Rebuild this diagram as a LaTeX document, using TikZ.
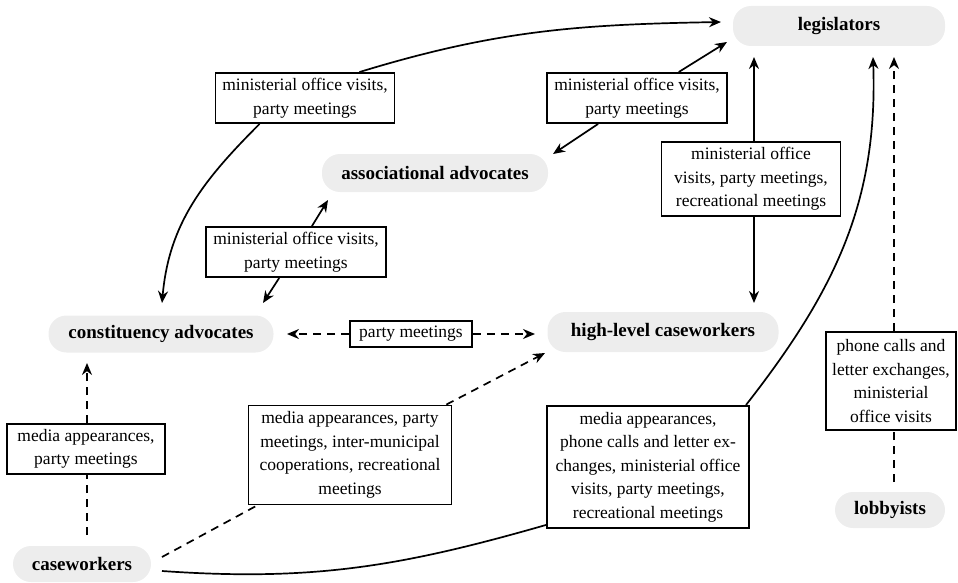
\documentclass[tikz,border=0pt]{standalone}
\usepackage{fontspec}
\setmainfont{Liberation Serif}
\usetikzlibrary{arrows.meta}
\begin{document}
\begin{tikzpicture}[x=1pt,y=-1pt,
  pill/.style={fill=black!7, rounded corners=18pt, font=\fontsize{19}{23}\selectfont\bfseries, inner sep=0pt},
  lbl/.style={draw, fill=white, line width=1.9pt, align=center, font=\fontsize{17.5}{23.5}\selectfont, inner xsep=4pt, inner ysep=1pt},
  conn/.style={line width=1.7pt},
  arr/.style={conn, -{Stealth[length=12pt,width=10pt]}},
  dsh/.style={dash pattern=on 8pt off 6pt}]
\useasboundingbox (0,0) rectangle (958,583);

% actors
\node[pill, minimum width=212pt, minimum height=40pt] (leg) at (839,26) {legislators};
\node[pill, minimum width=226pt, minimum height=38pt] (asc) at (435,173) {associational advocates};
\node[pill, minimum width=225pt, minimum height=37pt] (con) at (161,334) {constituency advocates};
\node[pill, minimum width=231pt, minimum height=40pt] (hlc) at (663,332) {high-level caseworkers};
\node[pill, minimum width=138pt, minimum height=36pt] (cw) at (82,564) {caseworkers};
\node[pill, minimum width=110pt, minimum height=36pt] (lob) at (890,510) {lobbyists};

% labels
\node[lbl, minimum width=179pt, minimum height=50pt] (L1) at (305,98) {ministerial office visits,\\party meetings};
\node[lbl, minimum width=180pt, minimum height=50pt] (L2) at (637,98) {ministerial office visits,\\party meetings};
\node[lbl, minimum width=179pt, minimum height=74pt] (L3) at (751,179) {ministerial office\\visits, party meetings,\\recreational meetings};
\node[lbl, minimum width=180pt, minimum height=50pt] (L4) at (296,252) {ministerial office visits,\\party meetings};
\node[lbl, minimum width=122pt, minimum height=26pt] (L5) at (411,334) {party meetings};
\node[lbl, minimum width=158pt, minimum height=50pt] (L6) at (86,449) {media appearances,\\party meetings};
\node[lbl, minimum width=203pt, minimum height=99pt] (L7) at (350,455) {media appearances, party\\meetings, inter-municipal\\cooperations, recreational\\meetings};
\node[lbl, minimum width=202pt, minimum height=122pt] (L8) at (648,467) {media appearances,\\phone calls and letter ex-\\changes, ministerial office\\visits, party meetings,\\recreational meetings};
\node[lbl, minimum width=130pt, minimum height=98pt] (L9) at (891,381) {phone calls and\\letter exchanges,\\ministerial\\office visits};

% connector end points
\coordinate (t1c) at (162,303);
\coordinate (t1l) at (721,22);
\coordinate (t2a) at (553,154);
\coordinate (t2l) at (727,42);
\coordinate (t3l) at (754,57);
\coordinate (t3h) at (754,303);
\coordinate (t4a) at (328,200);
\coordinate (t4c) at (263,303);
\coordinate (t5c) at (287,334);
\coordinate (t5h) at (535,334);
\coordinate (s6) at (87,535);
\coordinate (t6c) at (87,363);
\coordinate (s7) at (162,557);
\coordinate (t7h) at (545,353);
\coordinate (s8) at (162,571);
\coordinate (t8l) at (873,57);
\coordinate (s9) at (894,482);
\coordinate (t9l) at (894,57);

% 1 constituency <-> legislators
\draw[arr] ([xshift=45pt]L1.south west) to[out=225,in=85] (t1c);
\draw[arr] ([xshift=-36pt]L1.north east) to[out=17,in=181] (t1l);
% 2 associational <-> legislators
\draw[arr] (L2) -- (t2a);
\draw[arr] (L2) -- (t2l);
% 3 legislators <-> high-level
\draw[arr] (L3.north -| t3l) -- (t3l);
\draw[arr] (L3.south -| t3h) -- (t3h);
% 4 constituency <-> associational
\draw[arr] (L4) -- (t4a);
\draw[arr] (L4) -- (t4c);
% 5 constituency <-> high-level
\draw[arr, dsh] (L5) -- (t5c);
\draw[arr, dsh] (L5) -- (t5h);
% 6 caseworkers -> constituency
\draw[conn, dsh] (s6) -- (L6.south -| s6);
\draw[arr, dsh] (L6.north -| t6c) -- (t6c);
% 7 caseworkers -> high-level
\draw[conn, dsh] (s7) -- (L7);
\draw[arr, dsh] (L7) -- (t7h);
% 8 caseworkers -> legislators
\draw[conn] (s8) to[out=-4,in=196] ([yshift=4pt]L8.south west);
\draw[arr] ([xshift=-4pt]L8.north east) to[out=52,in=-88] (t8l);
% 9 lobbyists -> legislators
\draw[conn, dsh] (s9) -- (L9.south -| s9);
\draw[arr, dsh] (L9.north -| t9l) -- (t9l);
\end{tikzpicture}
\end{document}
